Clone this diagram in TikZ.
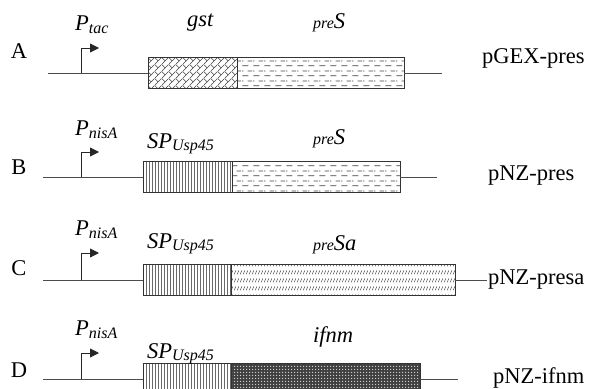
\documentclass[tikz,border=0pt]{standalone}
\usepackage{fontspec}
\setmainfont{Liberation Serif}
\usetikzlibrary{patterns,arrows.meta}

% fill patterns for the gene segments
% diagonal bricks: one diagonal course line and one joint per 7.071pt square tile
\pgfdeclarepatternformonly{diagbricks}{\pgfpointorigin}{\pgfpoint{7.071pt}{7.071pt}}{\pgfpoint{7.071pt}{7.071pt}}{%
  \pgfsetlinewidth{0.6pt}%
  \pgfpathmoveto{\pgfpoint{-0.3pt}{-0.3pt}}\pgfpathlineto{\pgfpoint{7.371pt}{7.371pt}}%
  \pgfpathmoveto{\pgfpoint{0pt}{7.071pt}}\pgfpathlineto{\pgfpoint{3.536pt}{3.536pt}}%
  \pgfusepath{stroke}}
\pgfdeclarepatternformonly{dashrows}{\pgfpointorigin}{\pgfpoint{11pt}{10pt}}{\pgfpoint{11pt}{10pt}}{%
  \pgfsetlinewidth{0.9pt}%
  \pgfpathmoveto{\pgfpoint{0.5pt}{2.5pt}}\pgfpathlineto{\pgfpoint{7pt}{2.5pt}}%
  \pgfpathmoveto{\pgfpoint{6pt}{7.5pt}}\pgfpathlineto{\pgfpoint{11pt}{7.5pt}}%
  \pgfpathmoveto{\pgfpoint{0pt}{7.5pt}}\pgfpathlineto{\pgfpoint{1.5pt}{7.5pt}}%
  \pgfusepath{stroke}}
\pgfdeclarepatternformonly{vbars}{\pgfpointorigin}{\pgfpoint{3.4pt}{1pt}}{\pgfpoint{3.4pt}{1pt}}{%
  \pgfsetlinewidth{0.8pt}%
  \pgfpathmoveto{\pgfpoint{1.7pt}{-0.1pt}}\pgfpathlineto{\pgfpoint{1.7pt}{1.1pt}}%
  \pgfusepath{stroke}}
\pgfdeclarepatternformonly{slashrows}{\pgfpointorigin}{\pgfpoint{3pt}{8pt}}{\pgfpoint{3pt}{8pt}}{%
  \pgfsetlinewidth{0.6pt}%
  \pgfpathmoveto{\pgfpoint{0.4pt}{2pt}}\pgfpathlineto{\pgfpoint{2.4pt}{6pt}}%
  \pgfusepath{stroke}}
\pgfdeclarepatternformonly{checkdots}{\pgfpointorigin}{\pgfpoint{2.6pt}{2.6pt}}{\pgfpoint{2.6pt}{2.6pt}}{%
  \pgfpathrectangle{\pgfpointorigin}{\pgfpoint{1.3pt}{1.3pt}}%
  \pgfusepath{fill}}

\newcommand\mainsz{\fontsize{22.5}{26}\selectfont}
\newcommand\smallsz{\fontsize{16}{18}\selectfont}

\tikzset{
  backbone/.style={draw=black!70, line width=0.9pt},
  gene/.style={draw=black!80, line width=0.9pt, anchor=west, inner sep=0pt,
    outer sep=0pt, minimum height=31pt},
  brickfill/.style={pattern=diagbricks, pattern color=black!75},
  dashfill/.style={pattern=dashrows, pattern color=black!75},
  barfill/.style={pattern=vbars, pattern color=black!90},
  slashfill/.style={pattern=slashrows, pattern color=black!75},
  dotfill/.style={preaction={fill=black!75}, pattern=checkdots, pattern color=black!20},
  prom/.style={draw=black!85, line width=0.9pt, -{Triangle[length=9pt,width=9pt]}},
  rowlbl/.style={font=\mainsz, inner sep=0pt},
  itlbl/.style={font=\mainsz\itshape, anchor=base west, inner sep=0pt},
  plasmid/.style={font=\mainsz, anchor=base west, inner sep=0pt}
}

\begin{document}
\begin{tikzpicture}[x=1pt, y=-1pt]
\useasboundingbox (0,0) rectangle (594,388);

% ---------- A: pGEX-pres ----------
\node[rowlbl] (lA) at (19,51) {A};
\coordinate (a0) at (48,73);
\coordinate (a1) at (442,73);
\coordinate (pa) at (81,73);
\node[gene, brickfill, minimum width=89pt] (gstA) at (148,73) {};
\node[gene, dashfill, minimum width=167pt] (presA) at (gstA.east) {};
\draw[backbone] (a0) -- (gstA.west);
\draw[backbone] (presA.east) -- (a1);
\draw[prom] (pa) -- ++(0,-25) -- ++(18,0);
\node[itlbl] (ptA) at (75,30) {P\raisebox{-3.5pt}{\smallsz tac}};
\node[itlbl] (tgst) at (187,26) {gst};
\node[itlbl] (tpresA) at (313,28) {{\smallsz pre}S};
\node[plasmid] (nA) at (482,63) {pGEX-pres};

% ---------- B: pNZ-pres ----------
\node[rowlbl] (lB) at (19,167) {B};
\coordinate (b0) at (43,177);
\coordinate (b1) at (437,177);
\coordinate (pb) at (81,177);
\node[gene, barfill, minimum width=89pt] (spB) at (143,177) {};
\node[gene, dashfill, minimum width=168pt] (presB) at (spB.east) {};
\draw[backbone] (b0) -- (spB.west);
\draw[backbone] (presB.east) -- (b1);
\draw[prom] (pb) -- ++(0,-25) -- ++(18,0);
\node[itlbl] (ptB) at (75,135) {P\raisebox{-3.5pt}{\smallsz nisA}};
\node[itlbl] (tspB) at (147,148) {SP\raisebox{-2pt}{\smallsz Usp45}};
\node[itlbl] (tpresB) at (313,144) {{\smallsz pre}S};
\node[plasmid] (nB) at (488,180) {pNZ-pres};

% ---------- C: pNZ-presa ----------
\node[rowlbl] (lC) at (19,268) {C};
\coordinate (c0) at (43,280);
\coordinate (c1) at (487,280);
\coordinate (pc) at (81,280);
\node[gene, barfill, minimum width=88pt] (spC) at (143,280) {};
\node[gene, slashfill, minimum width=224pt] (presaC) at (spC.east) {};
\draw[backbone] (c0) -- (spC.west);
\draw[backbone] (presaC.east) -- (c1);
\draw[prom] (pc) -- ++(0,-27) -- ++(18,0);
\node[itlbl] (ptC) at (75,235) {P\raisebox{-3.5pt}{\smallsz nisA}};
\node[itlbl] (tspC) at (147,248) {SP\raisebox{-2pt}{\smallsz Usp45}};
\node[itlbl] (tpresaC) at (313,250) {{\smallsz pre}Sa};
\node[plasmid] (nC) at (488,284) {pNZ-presa};

% ---------- D: pNZ-ifnm ----------
\node[rowlbl] (lD) at (19,370) {D};
\coordinate (d0) at (43,379);
\coordinate (d1) at (458,379);
\coordinate (pd) at (81,379);
\node[gene, barfill, minimum width=88pt] (spD) at (143,379) {};
\node[gene, dotfill, minimum width=189pt] (ifnmD) at (spD.east) {};
\draw[backbone] (d0) -- (spD.west);
\draw[backbone] (ifnmD.east) -- (d1);
\draw[prom] (pd) -- ++(0,-26) -- ++(18,0);
\node[itlbl] (ptD) at (75,335) {P\raisebox{-3.5pt}{\smallsz nisA}};
\node[itlbl] (tspD) at (147,358) {SP\raisebox{-2pt}{\smallsz Usp45}};
\node[itlbl] (tifnm) at (313,342) {ifnm};
\node[plasmid] (nD) at (493,383) {pNZ-ifnm};
\end{tikzpicture}
\end{document}
